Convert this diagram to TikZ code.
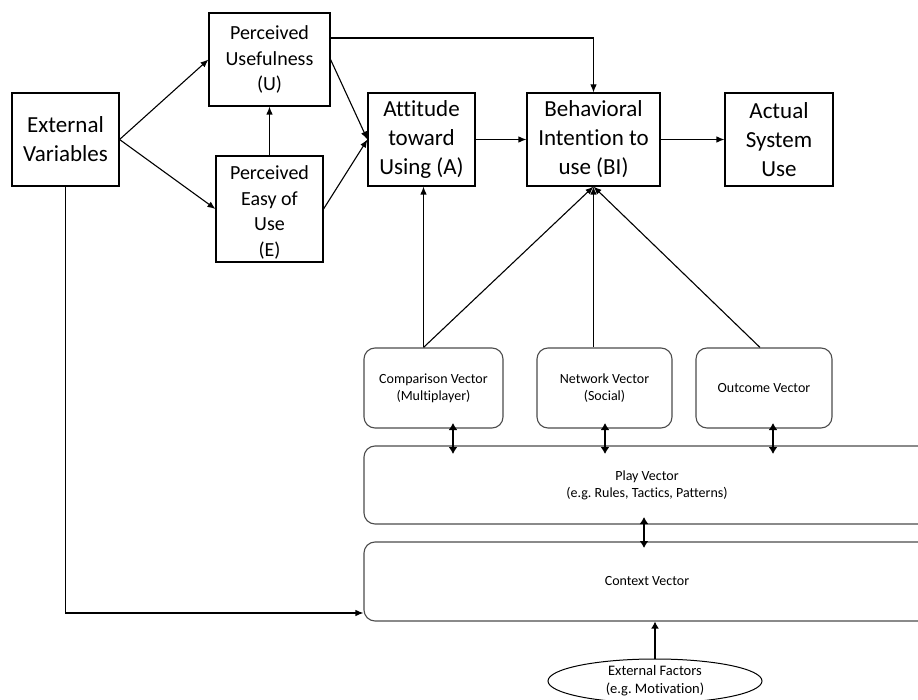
\documentclass[tikz,border=0pt]{standalone}
\usepackage{fontspec}
\setmainfont[Ligatures=NoCommon]{Carlito}
\frenchspacing
\usetikzlibrary{arrows.meta,shapes.geometric}
\tikzset{
  topbox/.style={draw=black, line width=1.1pt, align=center, inner sep=0pt, fill=white},
  bigfont/.style={font=\fontsize{23}{29}\selectfont},
  midfont/.style={font=\fontsize{20}{25.5}\selectfont},
  vecbox/.style={draw=black!70, line width=1.1pt, rounded corners=11pt, align=center, inner sep=0pt,
                 font=\fontsize{14}{17}\selectfont},
  arr/.style={line width=1.1pt, -{Latex[length=8pt,width=6.5pt]}},
  dbl/.style={line width=2.2pt, {Latex[length=7pt,width=9pt]}-{Latex[length=7pt,width=9pt]}},
  thickarr/.style={line width=2.4pt, -{Latex[length=7pt,width=8pt]}},
}
\begin{document}
\begin{tikzpicture}[x=1pt,y=-1pt]
\useasboundingbox (0,0) rectangle (918,700);
\clip (0,0) rectangle (918,700);
% top row
\node[topbox,bigfont,minimum width=107pt,minimum height=93pt] (ev) at (65.5,139.5) {External\\Variables};
\node[topbox,midfont,minimum width=121pt,minimum height=93pt] (pu) at (269.5,59.5) {Perceived\\Usefulness\\(U)};
\node[topbox,midfont,minimum width=107pt,minimum height=106pt] (pe) at (269.5,209) {\\[-5pt]Perceived\\Easy of\\Use\\(E)};
\node[topbox,bigfont,minimum width=107pt,minimum height=93pt] (att) at (421.5,139.5) {Attitude\\toward\\Using (A)};
\node[topbox,bigfont,minimum width=133pt,minimum height=93pt] (bi) at (593.5,139.5) {Behavioral\\Intention to\\use (BI)};
\node[topbox,bigfont,minimum width=108pt,minimum height=93pt] (asu) at (779,139.5) {Actual\\System\\Use};
% vectors
\node[vecbox,minimum width=139pt,minimum height=80pt] (cv) at (433.5,388) {Comparison Vector\\(Multiplayer)};
\node[vecbox,minimum width=135pt,minimum height=80pt] (nv) at (604.5,388) {Network Vector\\(Social)};
\node[vecbox,minimum width=136pt,minimum height=80pt] (ov) at (764,388) {Outcome Vector};
\node[vecbox,minimum width=566pt,minimum height=78pt] (pv) at (647,485) {Play Vector\\(e.g. Rules, Tactics, Patterns)};
\node[vecbox,minimum width=566pt,minimum height=79pt] (ctx) at (647,581.5) {Context Vector};
\node[draw=black, line width=1pt, ellipse, minimum width=214pt, minimum height=44pt, inner sep=0pt,
      align=center, font=\fontsize{14.5}{18}\selectfont] (ef) at (655,681) {External Factors\\(e.g. Motivation)};
% TAM connectors
\draw[arr] (ev.east) -- (pu.west);
\draw[arr] (ev.east) -- (pe.west);
\draw[arr] (pe.north) -- (pu.south);
\draw[arr] (pu.east) -- (att.west);
\draw[arr] (pe.east) -- (att.west);
\draw[arr] ([yshift=21.5pt]pu.east) -| (bi.north);
\draw[arr] (att.east) -- (bi.west);
\draw[arr] (bi.east) -- (asu.west);
% vectors to TAM
\coordinate (cvtop) at ([xshift=-10pt]cv.north);
\coordinate (ovtop) at ([xshift=-4pt]ov.north);
\draw[arr] (cvtop) -- (cvtop |- att.south);
\draw[arr] (cvtop) -- (bi.south);
\draw[arr] (bi.south |- nv.north) -- (bi.south);
\draw[arr] (ovtop) -- (bi.south);
% double arrows
\coordinate (c1) at (453,423); \coordinate (c2) at (453,454);
\coordinate (n1) at (605,423); \coordinate (n2) at (605,454);
\coordinate (o1) at (773,423); \coordinate (o2) at (773,454);
\coordinate (p1) at (644,517); \coordinate (p2) at (644,548);
\draw[dbl] (c1) -- (c2);
\draw[dbl] (n1) -- (n2);
\draw[dbl] (o1) -- (o2);
\draw[dbl] (p1) -- (p2);
% external variables to context
\draw[arr] (ev.south) |- ([yshift=-31.5pt]ctx.west);
% external factors
\draw[thickarr] (ef.north) -- (ef.north |- ctx.south);
\end{tikzpicture}
\end{document}
